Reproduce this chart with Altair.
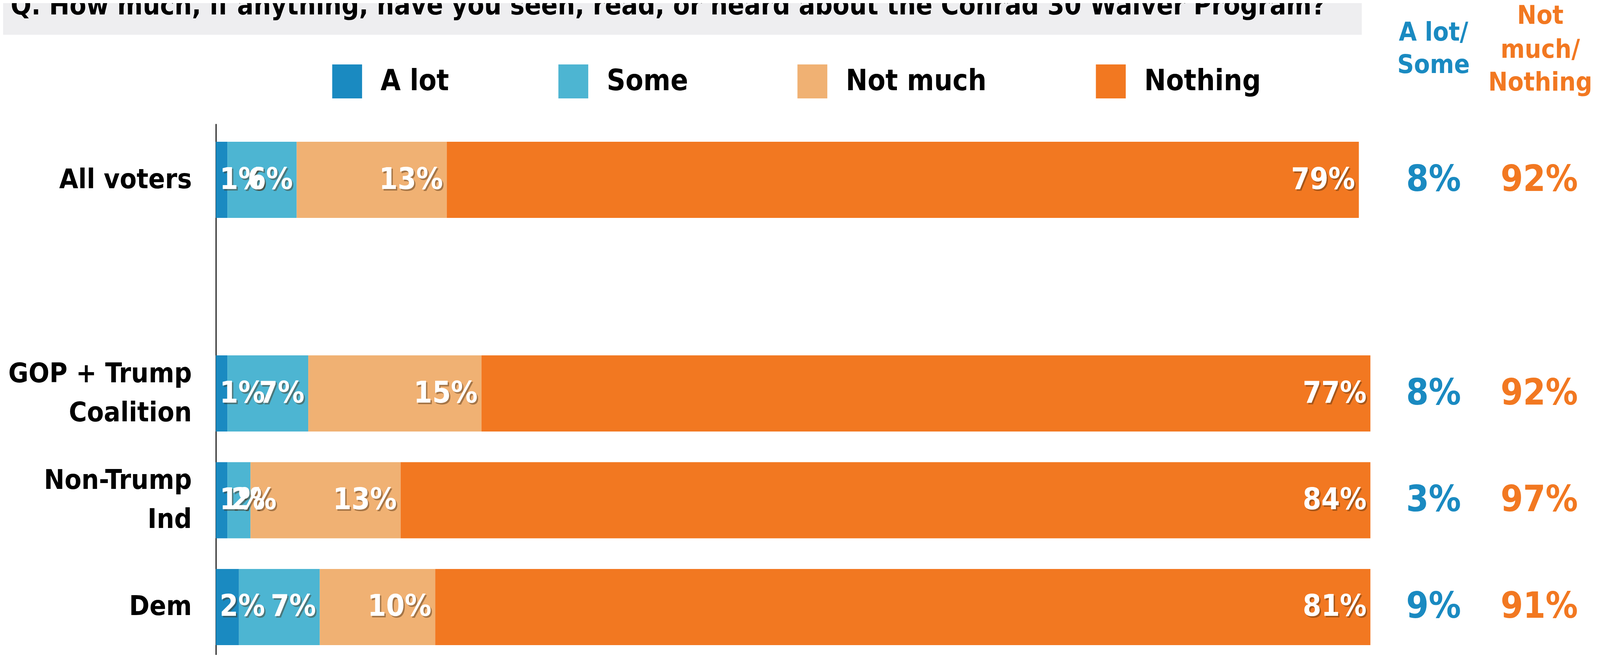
import altair as alt
import pandas as pd

# ---------------- data ----------------
groups = ["All voters", "GOP + Trump Coalition", "Non-Trump Ind", "Dem"]
group_lines = [["All voters"], ["GOP + Trump", "Coalition"], ["Non-Trump", "Ind"], ["Dem"]]
answers = ["A lot", "Some", "Not much", "Nothing"]
a_lot = [1, 1, 1, 2]
some = [6, 7, 2, 7]
not_much = [13, 15, 13, 10]
nothing = [79, 77, 84, 81]
a_lot_some = [8, 8, 3, 9]
not_much_nothing = [92, 92, 97, 91]
colors = ["#1a8ac1", "#4db5d2", "#f0b173", "#f27821"]
title_text = "Q. How much, if anything, have you seen, read, or heard about the Conrad 30 Waiver Program?"
hdr_left = ["A lot/", "Some"]
hdr_right = ["Not", "much/", "Nothing"]

SPACER = "_"
y_domain = [groups[0], SPACER] + groups[1:]

rows = []
for i, g in enumerate(groups):
    start = 0
    for ans, vals in zip(answers, [a_lot, some, not_much, nothing]):
        v = vals[i]
        rows.append({"group": g, "answer": ans, "value": v,
                     "start": start, "end": start + v, "label": f"{v}%"})
        start += v
df = pd.DataFrame(rows)

totals = pd.DataFrame({
    "group": groups,
    "left": [f"{v}%" for v in a_lot_some],
    "right": [f"{v}%" for v in not_much_nothing],
})

lab_rows = []
for g, lines in zip(groups, group_lines):
    n = len(lines)
    for k_, t in enumerate(lines):
        pos = "single" if n == 1 else ("top" if k_ == 0 else "bottom")
        lab_rows.append({"group": g, "line": t, "pos": pos})
labels_df = pd.DataFrame(lab_rows)

# ---------------- layout ----------------
# horizontal positions are designed in reference pixels and scaled by K,
# vertical positions are used as they are
K = 4096 / 4662.0


def k(v):
    return round(v * K, 2)


FONT = "DejaVu Sans Condensed, Liberation Sans Narrow, Roboto, sans-serif"
SVG_W = 4076
SVG_H = 1669
PAD_L = k(629) - 8
PAD_T = 317 - 8
W = k(3364)
H = SVG_H - PAD_T
PAD_R = SVG_W - PAD_L - W

xs = alt.Scale(domain=[0, 100], nice=False, zero=False)
ys = alt.Scale(domain=y_domain, paddingInner=0.287, paddingOuter=0.13, align=0.648, round=False)

SYM_H = 87
SYM_W = SYM_H * K
legend_symbol = f"M{-K:.4f},-1H{K:.4f}V1H{-K:.4f}Z"

bars = alt.Chart(df).mark_bar().encode(
    x=alt.X("start:Q", scale=xs, axis=None),
    x2="end:Q",
    y=alt.Y("group:N", scale=ys, sort=y_domain, title=None,
            axis=alt.Axis(labels=False, ticks=False, tickSize=0, domain=True,
                          domainColor="black", domainWidth=2.6, grid=False)),
    color=alt.Color(
        "answer:N",
        scale=alt.Scale(domain=answers, range=colors),
        legend=alt.Legend(
            title=None, orient="none",
            legendX=k(968 - 629) - (SYM_H - SYM_W) / 2, legendY=165 - 317,
            direction="horizontal", symbolType=legend_symbol, symbolSize=SYM_H ** 2,
            symbolStrokeWidth=0, symbolOpacity=1,
            labelFont=FONT, labelFontWeight="bold", labelFontSize=74,
            labelColor="black", labelOffset=k(54) - (SYM_H - SYM_W) / 2,
            columnPadding=274, padding=0, labelLimit=2000,
        ),
    ),
)


def cat_layer(pos, dy):
    return alt.Chart(labels_df).transform_filter(alt.datum.pos == pos).mark_text(
        font=FONT, fontWeight="bold", fontSize=70, color="black",
        align="right", baseline="middle", dy=dy).encode(
        x=alt.value(k(-70)), y=alt.Y("group:N", scale=ys), text="line:N")


cat_single = cat_layer("single", 0)
cat_top = cat_layer("top", -50)
cat_bottom = cat_layer("bottom", 50)

# segment labels: right-aligned near the segment end, but never starting
# before the segment start (so small segments overlap like the original)
SEG_FS = 76
PX_PER_PCT = W / 100.0
PAD_PCT = k(11) / PX_PER_PCT
label_x_expr = (
    f"max(datum.end - {PAD_PCT:.4f}, datum.start + {PAD_PCT:.4f} + "
    f"(0.626 * (length(datum.label) - 1) + 0.902) * {SEG_FS} / {PX_PER_PCT:.4f})"
)


def seg_layer(color, ddx, ddy, opacity=1.0):
    return alt.Chart(df).transform_calculate(label_x=label_x_expr).mark_text(
        font=FONT, fontWeight="bold", fontSize=SEG_FS, baseline="middle",
        align="right", dx=ddx, dy=ddy, color=color, opacity=opacity).encode(
        x=alt.X("label_x:Q", scale=xs), y=alt.Y("group:N", scale=ys), text="label:N")


seg_shadow = seg_layer("#4a2e12", k(4), 4, 0.45)
seg_text = seg_layer("white", 0, 0)

left_vals = alt.Chart(totals).mark_text(
    font=FONT, fontWeight="bold", fontSize=92, color="#1a8ac1",
    align="center", baseline="middle").encode(
    x=alt.value(k(3548)), y=alt.Y("group:N", scale=ys), text="left:N")
right_vals = alt.Chart(totals).mark_text(
    font=FONT, fontWeight="bold", fontSize=92, color="#f27821",
    align="center", baseline="middle").encode(
    x=alt.value(k(3856)), y=alt.Y("group:N", scale=ys), text="right:N")

deco = pd.DataFrame({"t": [title_text]})
title_bg = alt.Chart(deco).mark_rect(color="#eeeef0").encode(
    x=alt.value(k(-640)), x2=alt.value(k(3968 - 629)),
    y=alt.value(-330), y2=alt.value(89 - 317))
title = alt.Chart(deco).mark_text(
    font=FONT, fontWeight="bold", fontSize=k(79), color="black",
    align="left", baseline="alphabetic").encode(
    x=alt.value(k(31 - 629)), y=alt.value(37 - 317), text="t:N")


def header(text, x, y, color):
    return alt.Chart(pd.DataFrame({"t": [text]})).mark_text(
        font=FONT, fontWeight="bold", fontSize=66, color=color,
        align="center", baseline="middle").encode(
        x=alt.value(k(x)), y=alt.value(y), text="t:N")


headers = [
    header(hdr_left[0], 3548, -233, "#1a8ac1"),
    header(hdr_left[1], 3548, -150, "#1a8ac1"),
    header(hdr_right[0], 3859, -276, "#f27821"),
    header(hdr_right[1], 3859, -189, "#f27821"),
    header(hdr_right[2], 3859, -105, "#f27821"),
]

chart = alt.layer(
    title_bg, title, *headers,
    bars, cat_single, cat_top, cat_bottom,
    seg_shadow, seg_text,
    left_vals, right_vals,
).properties(
    width=W, height=H,
    autosize=alt.AutoSizeParams(type="none"),
    padding={"left": PAD_L, "top": PAD_T, "right": PAD_R, "bottom": 0},
    background="white",
).configure_view(stroke=None)

chart.save("out.html", embed_options={"renderer": "svg", "actions": False})
